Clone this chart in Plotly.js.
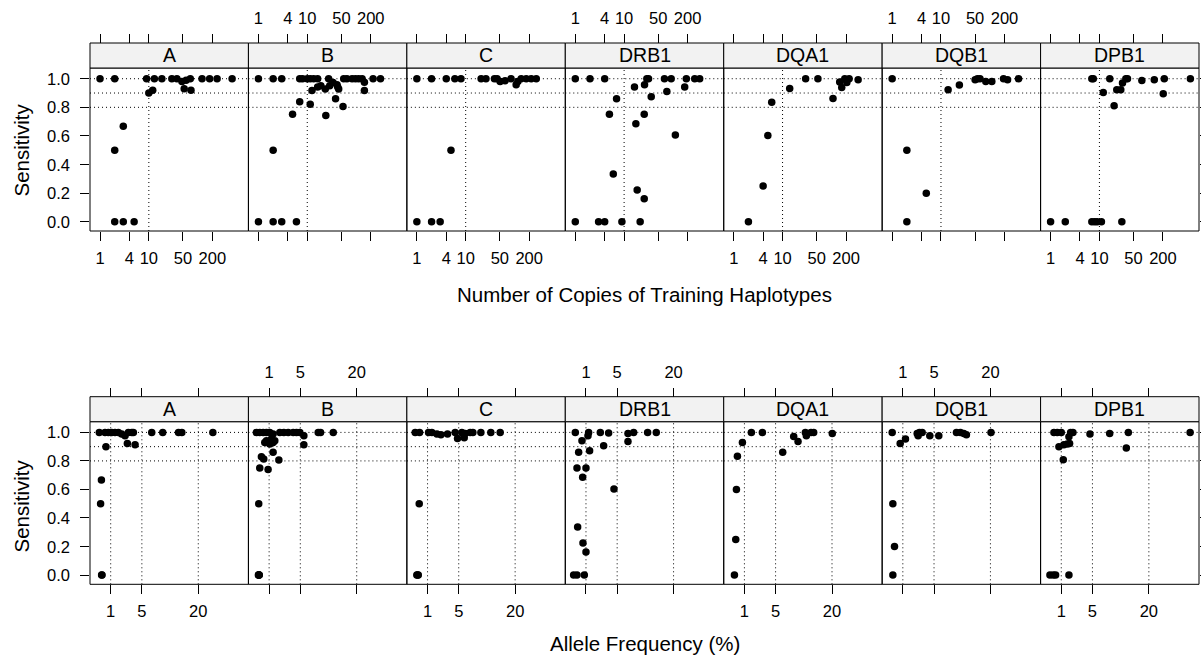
<!DOCTYPE html>
<html><head><meta charset="utf-8">
<script src="https://cdn.plot.ly/plotly-3.0.1.min.js"></script>
<style>html,body{margin:0;padding:0;background:#fff}#chart{width:1201px;height:657px}</style>
</head><body><div id="chart"></div>
<script>
const genes = ['A','B','C','DRB1','DQA1','DQB1','DPB1'];

// Top row: number of copies of training haplotypes vs sensitivity
const copiesA = [1,2,9,13,18.5,29.6,37.6,47.6,58,70.7,123,176,250,508,10,12,53,73,3,2,2,3,5];
const sensCopiesA = [1,1,1,1,1,1,1,0.98,0.99,1,1,1,1,1,0.9,0.92,0.93,0.92,0.667,0.5,0,0,0];
const copiesB = [1,2,3,7,8,10,11.5,13.5,16.3,27.4,55.8,65,82.7,97,113,133,148,223,316,12.5,16.3,19,23.4,28.8,33.7,40.7,42,44,148,7,11.5,5,24,38,54,2,1,2,3,6];
const sensCopiesB = [1,1,1,1,1,1,1,1,1,1,1,1,1,1,1,1,0.975,1,1,0.918,0.942,0.951,0.928,0.951,0.974,0.958,0.942,0.928,0.918,0.839,0.822,0.752,0.743,0.86,0.806,0.5,0,0,0,0];
const copiesC = [1,2,4,6,8,20.7,26,38.8,44,50.7,64,85,108,117,137,174,220,279,5,1,2,3];
const sensCopiesC = [1,1,1,1,1,1,1,1,1,0.981,0.986,1,0.958,0.981,1,1,1,1,0.5,0,0,0];
const copiesDRB1 = [1,2,4,29.2,31.6,67,92,188,279,353,16.3,26.2,75,35.9,174,7,5,25.8,17.4,112,6,18.5,25.8,1,3,4,9,21.3];
const sensCopiesDRB1 = [1,1,1,1,1,1,1,1,1,1,0.942,0.958,0.911,0.874,0.942,0.86,0.752,0.752,0.685,0.607,0.334,0.222,0.161,0,0,0,0,0];
const copiesDQA1 = [29.7,53,148,188,231,207,163,353,14,108,6,5,4,2];
const sensCopiesDQA1 = [1,1,0.977,1,1,0.974,0.939,0.993,0.932,0.862,0.836,0.603,0.25,0];
const copiesDQB1 = [1,50,55.8,63,82.7,110,191,231,388,14,23.8,2,5,2];
const sensCopiesDQB1 = [1,0.993,1,1,0.981,0.981,1,0.993,1,0.923,0.956,0.5,0.199,0];
const copiesDPB1 = [7,7.5,16.3,34.8,37.6,74,133,213,730,29.7,27.4,22.7,12,203,20,1,2,7,8,9,11,28.8];
const sensCopiesDPB1 = [1,1,1,1,1,0.988,0.993,1,1,0.97,0.923,0.923,0.904,0.895,0.811,0,0,0,0,0,0,0];

// Bottom row: allele frequency (%) vs sensitivity
const freqA = [0.30,0.6,0.82,1.08,1.37,1.7,2.06,2.46,2.89,3.36,3.61,6.9,9.38,13.6,14.6,25.5,0.66,2.76,3.87,0.40,0.36,0.41,0.43];
const sensFreqA = [1,1,1,1,1,1,0.988,0.977,1,1,1,1,1,1,1,1,0.9,0.923,0.914,0.667,0.5,0,0];
const freqB = [0.247,0.396,0.58,0.8,1.05,1.34,2.03,2.51,3.08,3.82,4.35,4.92,5.65,8.68,9.24,12.55,0.685,0.8,1.19,1.34,1.05,1.5,5.65,1.34,0.483,0.62,1.92,0.396,0.92,0.347,0.33,0.347,0.37,0.36];
const sensFreqB = [1,1,1,1,1,0.988,1,1,1,1,1,1,0.977,1,1,1,0.93,0.942,0.953,0.93,0.918,0.942,0.914,0.86,0.83,0.814,0.807,0.75,0.739,0.5,0,0,0,0];
const freqC = [0.261,0.467,1.08,1.37,1.88,2.34,3.21,4.39,4.79,5.57,6.02,6.21,7.24,7.82,9.7,12.3,15.05,0.449,0.365,0.33,0.40];
const sensFreqC = [1,1,1,1,0.988,0.984,0.988,1,0.958,1,0.963,0.993,1,1,1,1,1,0.5,0,0,0];
const freqDRB1 = [0.333,1.22,2.46,3.6,7.1,8.35,11.86,14.34,1.165,0.707,7.1,2.89,1.31,0.503,0.414,1,0.753,4.45,0.449,0.776,1,0.261,0.414,0.872];
const sensFreqDRB1 = [1,1,1,0.995,0.993,1,1,1,0.977,0.942,0.937,0.907,0.872,0.86,0.75,0.75,0.685,0.604,0.336,0.224,0.161,0,0,0];
const freqDQA1 = [1.63,2.93,8.72,9.77,11.67,11.94,13.25,14.03,20.1,0.848,6.34,0.523,0.467,0.432,0.365];
const sensFreqDQA1 = [1,1,0.972,0.937,1,0.977,1,1,0.993,0.93,0.86,0.832,0.599,0.249,0];
const freqDQB1 = [0.334,2.46,2.58,2.76,3.12,4.28,5.88,9.77,10.78,11.67,12.4,20.2,0.8,1.22,0.365,0.449,0.365];
const sensFreqDQB1 = [1,0.993,0.977,1,1,0.977,0.977,1,1,0.993,0.984,1,0.923,0.953,0.5,0.2,0];
const freqDPB1 = [0.503,0.707,1,1.88,2.14,1.7,4.57,8.52,13.39,37.3,0.823,1.22,1.53,1.77,12.8,1.165,0.303,0.467,0.601,1.7];
const sensFreqDPB1 = [1,1,1,1,1,0.97,0.988,0.993,1,1,0.9,0.914,0.918,0.923,0.89,0.809,0,0,0,0];

const copiesTicks = [1,4,10,50,200];
const freqTicks = [1,5,20];
const sensTicks = [0,0.2,0.4,0.6,0.8,1.0];
const refSens = [0.8,0.9,1.0];
const refCopies = [10];
const refFreq = [1,5,20];

const copiesData = [copiesA,copiesB,copiesC,copiesDRB1,copiesDQA1,copiesDQB1,copiesDPB1];
const sensCopiesData = [sensCopiesA,sensCopiesB,sensCopiesC,sensCopiesDRB1,sensCopiesDQA1,sensCopiesDQB1,sensCopiesDPB1];
const freqData = [freqA,freqB,freqC,freqDRB1,freqDQA1,freqDQB1,freqDPB1];
const sensFreqData = [sensFreqA,sensFreqB,sensFreqC,sensFreqDRB1,sensFreqDQA1,sensFreqDQB1,sensFreqDPB1];

const W = 1201, H = 657;
const FONT = 'Liberation Sans, Arial, Helvetica, sans-serif';
const panelLeft = 90, panelW = 158.43;
const rows = [
  {plotTop: 68, plotBot: 231, stripTop: 43, type: 'log', range: [-0.205, 3.04],
   ticks: copiesTicks, tickpos: copiesTicks, refs: refCopies, tx: v => v,
   xs: copiesData, ys: sensCopiesData},
  {plotTop: 421.7, plotBot: 584.3, stripTop: 396.7, type: 'linear', range: [0.18, 6.46],
   ticks: freqTicks, tickpos: freqTicks.map(Math.sqrt), refs: refFreq, tx: v => Math.sqrt(v),
   xs: freqData, ys: sensFreqData}
];
const px = v => v / W;
const py = v => 1 - v / H;
const axName = (p, n) => p + (n === 1 ? '' : n);

const traces = [];
const shapes = [];
const annotations = [];
const layout = {
  width: W, height: H, margin: {l: 0, r: 0, t: 0, b: 0},
  paper_bgcolor: '#ffffff', plot_bgcolor: 'rgba(0,0,0,0)', showlegend: false,
  font: {family: FONT, color: '#000000', size: 16.5},
  shapes: shapes, annotations: annotations
};
const tickfont = {family: FONT, size: 16.5, color: '#000'};

rows.forEach((row, r) => {
  genes.forEach((g, k) => {
    const n = r * 7 + k + 1;
    const m = 14 + n;
    const l = panelLeft + k * panelW, rt = l + panelW;
    const xn = axName('x', n), yn = axName('y', n), xm = axName('x', m);
    layout[axName('xaxis', n)] = {
      domain: [px(l), px(rt)], anchor: yn, type: row.type, range: row.range,
      tickmode: 'array', tickvals: row.tickpos, ticktext: row.ticks.map(String),
      ticks: 'outside', ticklen: 9, tickwidth: 1, tickcolor: '#000',
      showticklabels: k % 2 === 0, tickfont: tickfont, ticklabelstandoff: 3,
      showgrid: false, zeroline: false, showline: false, fixedrange: true
    };
    layout[axName('xaxis', m)] = {
      overlaying: xn, side: 'top', anchor: 'free', position: py(row.stripTop),
      type: row.type, range: row.range,
      tickmode: 'array', tickvals: row.tickpos, ticktext: row.ticks.map(String),
      ticks: 'outside', ticklen: 9, tickwidth: 1, tickcolor: '#000',
      showticklabels: k % 2 === 1, tickfont: tickfont, ticklabelstandoff: 3,
      showgrid: false, zeroline: false, showline: false, fixedrange: true
    };
    layout[axName('yaxis', n)] = {
      domain: [py(row.plotBot), py(row.plotTop)], anchor: xn, range: [-0.065, 1.075],
      tickmode: 'array', tickvals: sensTicks,
      ticks: (k === 0 || k === 6) ? 'outside' : '', side: k === 6 ? 'right' : 'left',
      ticklen: 9, tickwidth: 1, tickcolor: '#000', showticklabels: false,
      showgrid: false, zeroline: false, showline: false, fixedrange: true
    };
    if (k === 0) {
      sensTicks.forEach(v => annotations.push({xref: 'paper', x: px(72), xanchor: 'right',
        yref: yn, y: v, yanchor: 'middle', text: v.toFixed(1), showarrow: false,
        font: tickfont}));
    }
    traces.push({
      type: 'scatter', mode: 'markers', x: row.xs[k].map(row.tx), y: row.ys[k],
      xaxis: xn, yaxis: yn, marker: {color: '#000', size: 7.5, line: {width: 0}},
      hoverinfo: 'skip', showlegend: false
    });
    traces.push({type: 'scatter', mode: 'markers', x: [], y: [], xaxis: xm, yaxis: yn,
      hoverinfo: 'skip', showlegend: false});
    // reference lines
    refSens.forEach(v => shapes.push({type: 'line', layer: 'above',
      xref: xn + ' domain', x0: 0, x1: 1, yref: yn, y0: v, y1: v,
      line: {color: '#000', width: 1, dash: '1px,3px'}}));
    row.refs.forEach(v => shapes.push({type: 'line', layer: 'above',
      xref: xn, x0: row.tx(v), x1: row.tx(v), yref: yn + ' domain', y0: 0, y1: 1,
      line: {color: '#000', width: 1, dash: '1px,3px'}}));
    // panel border
    shapes.push({type: 'rect', xref: 'paper', yref: 'paper', layer: 'above',
      x0: px(l), x1: px(rt), y0: py(row.plotBot), y1: py(row.plotTop),
      line: {color: '#000', width: 1}, fillcolor: 'rgba(0,0,0,0)'});
    // strip
    shapes.push({type: 'rect', xref: 'paper', yref: 'paper', layer: 'above',
      x0: px(l), x1: px(rt), y0: py(row.plotTop), y1: py(row.stripTop),
      line: {color: '#000', width: 1}, fillcolor: '#F2F2F2'});
    annotations.push({xref: 'paper', yref: 'paper', x: px(l + panelW / 2),
      y: py((row.plotTop + row.stripTop) / 2), text: g, showarrow: false,
      font: {family: FONT, size: 19.5, color: '#000'}, xanchor: 'center', yanchor: 'middle'});
  });
});

annotations.push({xref: 'paper', yref: 'paper', x: px(644.5), y: py(294),
  text: 'Number of Copies of Training Haplotypes', showarrow: false,
  font: {family: FONT, size: 20.5, color: '#000'}, xanchor: 'center', yanchor: 'middle'});
annotations.push({xref: 'paper', yref: 'paper', x: px(644.5), y: py(643),
  text: 'Allele Frequency (%)', showarrow: false,
  font: {family: FONT, size: 20.5, color: '#000'}, xanchor: 'center', yanchor: 'middle'});
[150, 506].forEach(yc => annotations.push({xref: 'paper', yref: 'paper', x: px(20.5), y: py(yc),
  text: 'Sensitivity', textangle: -90, showarrow: false,
  font: {family: FONT, size: 20.5, color: '#000'}, xanchor: 'center', yanchor: 'middle'}));

Plotly.newPlot('chart', traces, layout, {displayModeBar: false, staticPlot: true});
</script>
</body></html>
